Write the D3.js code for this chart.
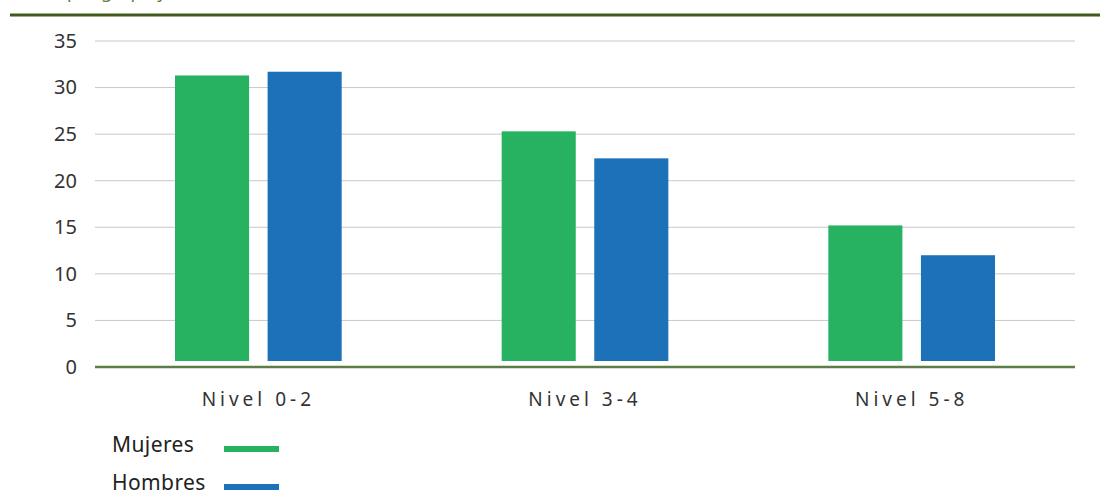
<!DOCTYPE html>
<html>
<head>
<meta charset="utf-8">
<script src="https://cdn.jsdelivr.net/npm/d3@7"></script>
<style>
  body { margin: 0; background: #fff; }
  text { font-family: "Noto Sans", "Open Sans", sans-serif; }
</style>
</head>
<body>
<svg id="chart"></svg>
<script>
// categorías y series
var categories = ["Nivel 0-2", "Nivel 3-4", "Nivel 5-8"];
var seriesNames = ["Mujeres", "Hombres"];
var mujeres = [31.3, 25.3, 15.2];
var hombres = [31.7, 22.4, 12.0];
var yTicks = [0, 5, 10, 15, 20, 25, 30, 35];
var colors = ["#27b262", "#1c71b9"];

var size = { width: 1100, height: 494 };
var margin = { top: 41, right: 25, bottom: 127, left: 95 };
var innerW = size.width - margin.left - margin.right;
var innerH = size.height - margin.top - margin.bottom;

var svg = d3.select("#chart")
  .attr("width", size.width)
  .attr("height", size.height);

// línea superior y texto cortado (solo se ven los trazos inferiores)
svg.append("text")
  .attr("x", 20)
  .attr("y", -2)
  .attr("fill", "#5b7b3a")
  .style("font-size", "18px")
  .text("Tasa, por grupo y sexo, %");

svg.append("line")
  .attr("x1", 10).attr("x2", size.width)
  .attr("y1", 15).attr("y2", 15)
  .attr("stroke", "#3f5a1c")
  .attr("stroke-width", 3);

var g = svg.append("g")
  .attr("transform", "translate(" + margin.left + "," + margin.top + ")");

var x0 = d3.scaleBand()
  .domain(categories)
  .range([0, innerW])
  .paddingInner(0)
  .paddingOuter(0);

var x1 = d3.scaleBand()
  .domain(seriesNames)
  .range([80, x0.bandwidth() - 80])
  .paddingInner(0.2);

var y = d3.scaleLinear()
  .domain([0, 35])
  .range([innerH, 0]);

// rejilla
g.append("g")
  .selectAll("line")
  .data(yTicks.filter(function(d){ return d > 0; }))
  .join("line")
    .attr("x1", 0).attr("x2", innerW)
    .attr("y1", function(d){ return y(d); })
    .attr("y2", function(d){ return y(d); })
    .attr("stroke", "#c8c8c8")
    .attr("stroke-width", 1);

// eje y
var yAxis = d3.axisLeft(y).tickValues(yTicks).tickSize(0).tickPadding(18);
g.append("g")
  .call(yAxis)
  .call(function(s){ s.select(".domain").remove(); })
  .selectAll("text")
    .attr("fill", "#333")
    .style("font-size", "20px")
    .style("font-family", "'Noto Sans', sans-serif");

// barras
var data = categories.map(function(c, i){
  return { cat: c, values: [mujeres[i], hombres[i]] };
});

var gap = 6;
g.append("g")
  .selectAll("g")
  .data(data)
  .join("g")
    .attr("transform", function(d){ return "translate(" + x0(d.cat) + ",0)"; })
  .selectAll("rect")
  .data(function(d){ return d.values.map(function(v, j){ return { name: seriesNames[j], value: v, idx: j }; }); })
  .join("rect")
    .attr("x", function(d){ return x1(d.name); })
    .attr("width", x1.bandwidth())
    .attr("y", function(d){ return y(d.value); })
    .attr("height", function(d){ return y(0) - y(d.value) - gap; })
    .attr("fill", function(d){ return colors[d.idx]; });

// eje x
g.append("line")
  .attr("x1", 0).attr("x2", innerW)
  .attr("y1", y(0)).attr("y2", y(0))
  .attr("stroke", "#5c7d45")
  .attr("stroke-width", 2.5);

var xAxis = d3.axisBottom(x0).tickSize(0).tickPadding(26);
g.append("g")
  .attr("transform", "translate(0," + innerH + ")")
  .call(xAxis)
  .call(function(s){ s.select(".domain").remove(); })
  .selectAll("text")
    .attr("fill", "#333")
    .style("font-size", "19px")
    .style("letter-spacing", "4px")
    .style("font-family", "'Noto Sans', sans-serif");

// leyenda
var legend = svg.append("g")
  .selectAll("g")
  .data(seriesNames)
  .join("g")
    .attr("transform", function(d, i){ return "translate(112," + (452 + i * 38) + ")"; });

legend.append("text")
  .attr("x", 0)
  .attr("y", 0)
  .attr("fill", "#222")
  .style("font-size", "21px")
  .style("letter-spacing", "0.4px")
  .text(function(d){ return d; });

legend.append("rect")
  .attr("x", 112)
  .attr("y", -6)
  .attr("width", 55)
  .attr("height", 6)
  .attr("fill", function(d, i){ return colors[i]; });
</script>
</body>
</html>
